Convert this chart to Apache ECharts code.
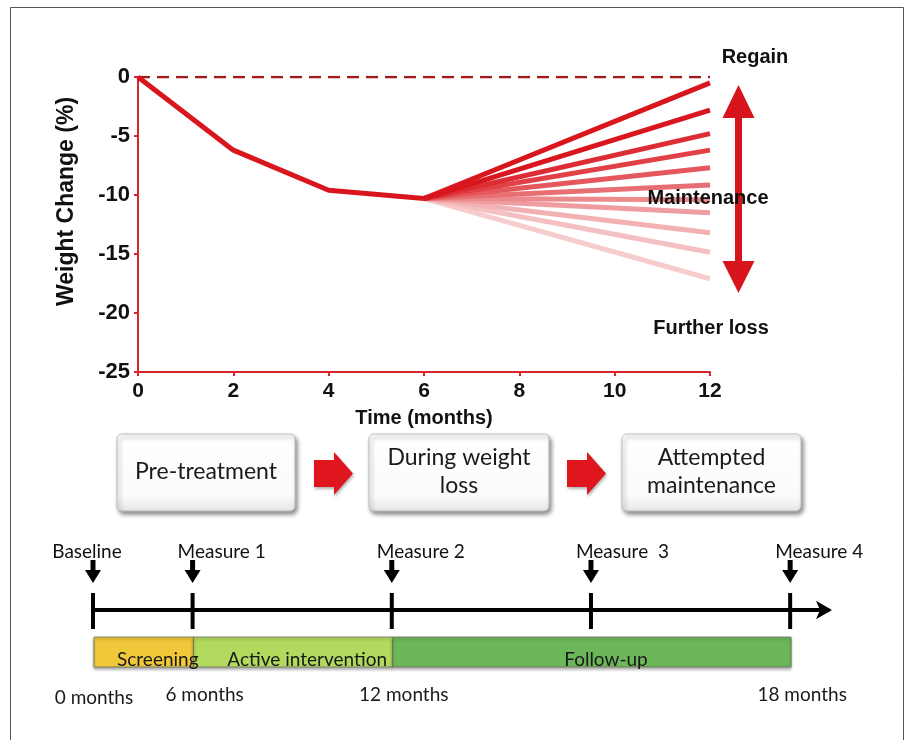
<!DOCTYPE html>
<html><head><meta charset="utf-8">
<script src="https://cdn.jsdelivr.net/npm/echarts@6/dist/echarts.min.js"></script>
<style>html,body{margin:0;padding:0;background:#fff}#c{width:912px;height:740px}</style>
</head><body><div id="c"></div>
<script>
// ---- data ----
const months = [0, 2, 4, 6];
const weightChange = [0, -6.2, -9.6, -10.3];
const fanStartMonth = 6;
const fanEndMonth = 12;
const fanStartValue = -10.3;
const fanEndValues = [-0.5, -2.8, -4.8, -6.2, -7.7, -9.15, -10.4, -11.5, -13.2, -14.85, -17.1];
const baselineMonths = [0, 12];
const baselineValues = [0, 0];
const annotations = ['Regain', 'Maintenance', 'Further loss'];
const stageNames = ['Pre-treatment', 'During weight\nloss', 'Attempted\nmaintenance'];
const milestones = ['Baseline', 'Measure 1', 'Measure 2', 'Measure  3', 'Measure 4'];
const milestonePos = [0, 1, 3, 5, 7];
const periods = ['Screening', 'Active intervention', 'Follow-up'];
const periodStart = [0, 1, 3];
const periodEnd = [1, 3, 7];
const monthLabels = ['0 months', '6 months', '12 months', '18 months'];
const monthLabelPos = [0, 1, 3, 7];

// ---- styles ----
const RED = [217, 22, 29];
const AXIS_RED = '#d4262c';
const ARIAL = '"Liberation Sans", Arial, sans-serif';
const BOLD = 'bold 20px ' + ARIAL;
const CAL = '"Lato", "Liberation Sans", sans-serif';
const periodColors = ['#f0c93b', '#b3da5e', '#6cb75a'];
function mix(t) { // t=1 full red, t->0 white
  const c = RED.map(v => Math.round(255 - (255 - v) * t));
  return 'rgb(' + c.join(',') + ')';
}
const fanStrength = [1, 1, 0.9, 0.82, 0.72, 0.62, 0.5, 0.42, 0.33, 0.27, 0.22];

const chart = echarts.init(document.getElementById('c'), null, {renderer: 'canvas', width: 912, height: 740});

const series = [];
// fan lines (lightest first)
for (let i = fanEndValues.length - 1; i >= 0; i--) {
  series.push({
    type: 'line', xAxisIndex: 0, yAxisIndex: 0, symbol: 'none', silent: true,
    data: [[fanStartMonth, fanStartValue], [fanEndMonth, fanEndValues[i]]],
    lineStyle: {color: mix(fanStrength[i]), width: 5, cap: 'butt'}, z: 3
  });
}
series.push({
  type: 'line', xAxisIndex: 0, yAxisIndex: 0, symbol: 'none',
  data: baselineMonths.map((m, i) => [m, baselineValues[i]]),
  lineStyle: {color: '#a01b1e', width: 2.5, type: [12, 7]}, z: 2
});
series.push({
  type: 'line', xAxisIndex: 0, yAxisIndex: 0, symbol: 'none',
  data: months.map((m, i) => [m, weightChange[i]]),
  lineStyle: {color: mix(1), width: 5, join: 'round'}, z: 4
});
// timeline milestones
series.push({
  type: 'custom', xAxisIndex: 1, yAxisIndex: 1, silent: true,
  data: milestonePos.map(p => [p, 0]),
  renderItem: function (params, api) {
    const i = params.dataIndex;
    const pt = api.coord([api.value(0), 0]);
    const x = pt[0], y = pt[1];
    return {type: 'group', children: [
      {type: 'rect', shape: {x: x - 2, y: y - 17, width: 4, height: 36}, style: {fill: '#000'}},
      {type: 'rect', shape: {x: x - 2.5, y: y - 50, width: 5, height: 13}, style: {fill: '#000'}},
      {type: 'polygon', shape: {points: [[x - 8, y - 40], [x + 8, y - 40], [x, y - 27]]}, style: {fill: '#000'}},
      {type: 'text', x: i === 0 ? x - 6 : x - 15, y: y - 58,
        style: {text: milestones[i], font: '19px ' + CAL, fill: '#111', align: i === 0 ? 'center' : 'left', verticalAlign: 'middle'}}
    ]};
  }
});
// periods
series.push({
  type: 'custom', xAxisIndex: 1, yAxisIndex: 1, silent: true,
  data: periodStart.map((s, i) => [s, periodEnd[i]]),
  renderItem: function (params, api) {
    const i = params.dataIndex;
    const a = api.coord([api.value(0), 0]);
    const b = api.coord([api.value(1), 0]);
    const y = a[1];
    return {type: 'group', children: [
      {type: 'rect', shape: {x: a[0] + 1, y: y + 27, width: b[0] - a[0], height: 30},
        style: {fill: periodColors[i], stroke: '#6f6f55', lineWidth: 0.8,
          shadowBlur: 3, shadowOffsetY: 2, shadowColor: 'rgba(0,0,0,0.35)'}},
      {type: 'text', x: (a[0] + b[0]) / 2 + 15, y: y + 50, z2: 10,
        style: {text: periods[i], font: '19px ' + CAL, fill: '#1a1a1a', align: 'center', verticalAlign: 'middle'}}
    ]};
  }
});
// month labels
series.push({
  type: 'custom', xAxisIndex: 1, yAxisIndex: 1, silent: true,
  data: monthLabelPos.map(p => [p, 0]),
  renderItem: function (params, api) {
    const i = params.dataIndex;
    const pt = api.coord([api.value(0), 0]);
    return {type: 'text', x: pt[0] + (i === 0 ? 1 : 12), y: pt[1] + 85 - (i === 0 ? -3 : 0),
      style: {text: monthLabels[i], font: '19px ' + CAL, fill: '#1a1a1a', align: 'center', verticalAlign: 'middle'}};
  }
});

// ---- decorative graphics ----
const graphics = [];
graphics.push({type: 'rect', shape: {x: 10.5, y: 7.5, width: 893, height: 760}, style: {fill: 'none', stroke: '#555', lineWidth: 1}, silent: true});
// annotation texts
graphics.push({type: 'text', x: 755, y: 57, style: {text: annotations[0], font: BOLD, fill: '#111', align: 'center', verticalAlign: 'middle'}, z: 20});
graphics.push({type: 'text', x: 708, y: 198, style: {text: annotations[1], font: BOLD, fill: '#111', align: 'center', verticalAlign: 'middle'}, z: 20});
graphics.push({type: 'text', x: 711, y: 328, style: {text: annotations[2], font: BOLD, fill: '#111', align: 'center', verticalAlign: 'middle'}, z: 20});
// double arrow
(function () {
  const cx = 738.5, hw = 16, sw = 3.5, top = 85, tb = 118, bot = 293, bb = 261;
  graphics.push({type: 'polygon', z: 15, silent: true, shape: {points: [
    [cx, top], [cx + hw, tb], [cx + sw, tb], [cx + sw, bb], [cx + hw, bb], [cx, bot],
    [cx - hw, bb], [cx - sw, bb], [cx - sw, tb], [cx - hw, tb]
  ]}, style: {fill: '#d7141c'}});
})();
// stage boxes
const boxes = [[117, 434, 178, 77], [369, 434, 180, 77], [622, 434, 179, 77]];
boxes.forEach(function (b, i) {
  graphics.push({type: 'rect', silent: true, shape: {x: b[0], y: b[1], width: b[2], height: b[3], r: 5},
    style: {fill: new echarts.graphic.LinearGradient(0, 0, 0, 1, [{offset: 0, color: '#ffffff'}, {offset: 0.8, color: '#fbfbfb'}, {offset: 1, color: '#e6e6e6'}]),
      stroke: '#bdbdbd', lineWidth: 1, shadowBlur: 4, shadowOffsetX: 2, shadowOffsetY: 3, shadowColor: 'rgba(0,0,0,0.45)'}});
  graphics.push({type: 'text', silent: true, x: b[0] + b[2] / 2, y: b[1] + b[3] / 2 - 1,
    style: {text: stageNames[i], font: '23px ' + CAL, fill: '#1a1a1a', align: 'center', verticalAlign: 'middle', lineHeight: 28}});
});
// red flow arrows
[314, 567].forEach(function (x0) {
  graphics.push({type: 'polygon', silent: true, shape: {points: [
    [x0, 460], [x0 + 20, 460], [x0 + 20, 452], [x0 + 39, 473.5], [x0 + 20, 495], [x0 + 20, 487], [x0, 487]
  ]}, style: {fill: '#e0161e', shadowBlur: 3, shadowOffsetX: 1, shadowOffsetY: 2, shadowColor: 'rgba(0,0,0,0.3)'}});
});

chart.setOption({
  animation: false,
  backgroundColor: '#fff',
  grid: [
    {left: 138, top: 77, width: 572, height: 295, outerBoundsMode: 'none', containLabel: false},
    {left: 93, top: 590, width: 735, height: 40, outerBoundsMode: 'none', containLabel: false}
  ],
  xAxis: [
    {type: 'value', gridIndex: 0, min: 0, max: 12, interval: 2,
      name: 'Time (months)', nameLocation: 'middle', nameGap: 36,
      nameTextStyle: {fontFamily: ARIAL, fontWeight: 'bold', fontSize: 20, color: '#111'},
      axisLine: {show: true, onZero: false, lineStyle: {color: AXIS_RED, width: 2}},
      axisTick: {show: true, length: 4, lineStyle: {color: AXIS_RED, width: 2}},
      axisLabel: {margin: 9, fontFamily: ARIAL, fontWeight: 'bold', fontSize: 21, color: '#111'},
      splitLine: {show: false}},
    {type: 'value', gridIndex: 1, min: 0, max: 7.38,
      axisLine: {show: true, onZero: true, symbol: ['none', 'arrow'], symbolSize: [14, 16], symbolOffset: [0, 4], lineStyle: {color: '#000', width: 4}},
      axisTick: {show: false}, axisLabel: {show: false}, splitLine: {show: false}}
  ],
  yAxis: [
    {type: 'value', gridIndex: 0, min: -25, max: 0, interval: 5,
      name: 'Weight Change (%)', nameLocation: 'middle', nameGap: 60, nameRotate: 90,
      nameTextStyle: {fontFamily: ARIAL, fontWeight: 'bold', fontSize: 23, color: '#111', padding: [0, 0, 0, 46]},
      axisLine: {show: true, onZero: false, lineStyle: {color: AXIS_RED, width: 2}},
      axisTick: {show: true, length: 4, lineStyle: {color: AXIS_RED, width: 2}},
      axisLabel: {margin: 8, fontFamily: ARIAL, fontWeight: 'bold', fontSize: 22, color: '#111'},
      splitLine: {show: false}},
    {type: 'value', gridIndex: 1, min: -1, max: 1, show: false}
  ],
  series: series,
  graphic: graphics
});
</script></body></html>
